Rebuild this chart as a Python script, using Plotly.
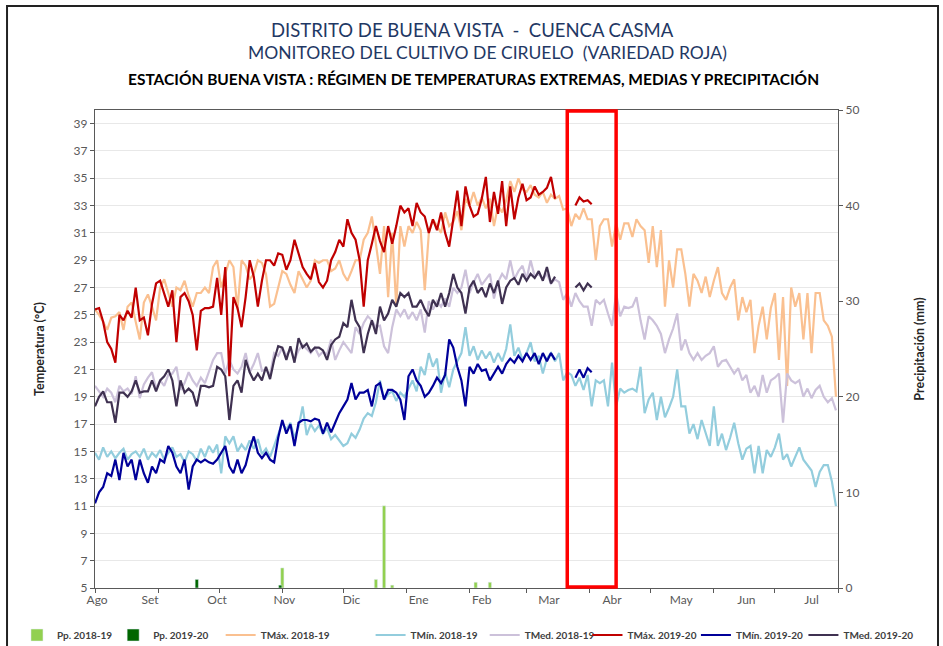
import pandas as pd
import plotly.graph_objects as go

# ---------------- DATA ----------------
# 2-day sampled daily series, season axis starting 1 Aug
tmax_1819 = [25.4,25.0,24.5,23.9,24.8,24.9,25.2,23.9,25.6,25.9,24.5,23.2,25.9,26.5,25.6,24.6,27.0,27.6,26.6,25.6,
             27.0,26.8,27.5,26.4,25.6,26.6,26.6,27.0,26.6,28.5,29.0,27.0,28.0,29.0,28.5,25.4,29.0,28.6,27.6,28.0,
             29.0,28.8,28.0,25.6,25.8,27.0,28.2,28.0,27.2,26.6,28.2,27.6,27.0,27.5,29.0,28.8,29.0,29.0,28.2,28.4,
             29.0,28.0,27.5,28.2,29.0,29.0,30.5,31.0,32.2,30.2,28.0,31.5,26.3,31.0,25.6,31.5,30.0,31.5,31.0,31.8,
             31.2,26.8,31.0,32.0,31.5,31.0,32.5,31.5,31.8,32.6,31.2,33.5,33.0,34.0,33.0,33.6,32.8,33.5,31.5,33.0,
             32.5,33.4,34.8,34.0,35.0,34.2,34.0,34.5,33.8,33.6,34.0,33.2,33.8,33.5,33.7,32.7,32.8,31.5,32.4,32.0,
             32.8,32.0,32.0,29.0,31.5,32.0,32.0,30.0,31.7,30.5,31.7,31.7,30.7,32.0,31.5,31.2,28.8,31.5,28.5,31.2,
             25.6,29.0,27.0,29.8,29.8,28.0,25.6,28.0,27.5,26.6,27.8,26.3,27.5,28.5,26.6,26.1,27.0,27.6,24.6,26.3,
             25.2,26.1,22.2,24.2,25.6,23.2,25.5,26.6,21.7,26.3,19.8,27.0,25.6,26.6,23.2,26.6,22.2,26.6,26.6,24.6,
             24.2,23.4,19.0]
tmin_1819 = [14.9,14.4,15.3,14.6,15.0,14.5,14.9,15.2,14.4,14.8,15.0,14.6,15.2,14.4,14.9,14.6,15.1,14.4,14.9,15.3,
             14.6,14.8,14.2,15.0,14.8,14.3,15.2,14.6,15.4,14.9,15.5,13.4,16.1,15.6,16.1,15.0,15.5,15.1,15.8,15.2,
             15.9,14.8,15.2,14.6,15.4,16.2,17.1,16.6,17.1,16.0,16.8,18.3,16.2,17.0,16.5,16.9,16.3,16.7,15.9,16.2,
             15.8,15.4,15.6,16.3,16.0,16.6,17.4,17.8,17.6,18.6,20.2,18.8,19.2,19.4,18.7,19.3,19.0,19.6,20.2,19.4,
             21.2,20.6,22.2,21.2,21.8,19.3,20.8,19.7,21.0,21.6,22.2,24.1,22.0,22.7,21.7,22.4,21.8,22.3,21.5,22.2,
             21.6,22.5,24.3,22.0,22.6,21.7,22.2,23.0,21.6,22.0,20.7,21.8,22.2,21.6,22.2,20.2,20.8,20.6,19.8,20.4,
             19.5,20.6,18.3,20.2,20.0,20.2,18.3,21.5,18.3,19.6,19.3,19.5,19.6,19.4,21.2,17.8,18.8,19.3,17.3,19.0,
             17.5,18.2,19.0,21.0,18.3,18.3,16.3,17.0,15.9,17.3,16.4,15.4,18.3,15.4,16.3,15.1,16.0,17.1,15.6,14.4,
             15.2,15.4,13.4,15.4,13.4,15.1,14.6,15.3,16.3,14.4,14.8,13.9,14.6,15.3,14.4,14.0,13.6,12.4,13.5,14.0,
             14.0,12.8,11.0]
tmed_1819 = [19.8,19.4,19.0,19.6,19.3,18.6,19.8,19.4,19.6,19.2,20.5,18.9,19.9,20.4,20.8,19.6,20.2,19.8,20.6,20.7,
             21.2,19.5,20.0,20.8,20.2,19.8,20.4,20.0,20.8,21.7,22.2,22.2,20.7,21.7,21.0,20.7,21.2,22.2,20.8,21.4,
             22.2,20.9,21.0,20.6,22.2,22.0,22.6,22.0,22.5,21.7,22.4,22.8,22.5,22.2,22.6,22.0,22.3,22.1,23.2,21.7,
             22.4,23.0,22.6,22.2,24.1,23.6,24.4,24.9,24.6,24.1,24.2,22.7,22.2,24.1,25.4,24.9,25.4,24.7,25.2,24.6,
             25.4,23.7,26.0,25.4,26.0,25.6,26.2,25.6,27.0,26.6,27.0,28.3,26.6,27.4,28.0,27.2,27.6,28.0,26.2,27.4,
             28.0,27.6,29.0,27.6,28.2,28.6,27.6,29.0,27.8,28.0,27.6,28.0,27.3,27.6,27.4,26.1,26.6,25.6,26.6,26.0,
             25.6,25.6,24.2,26.1,25.8,26.1,25.1,24.2,26.6,24.9,25.6,25.5,25.6,26.3,24.6,23.2,24.9,24.6,24.2,23.6,
             22.2,23.2,24.0,25.1,22.4,23.2,22.2,21.7,22.2,21.7,22.0,22.2,22.7,21.2,21.6,21.7,21.2,20.7,21.1,20.2,
             20.6,19.3,19.8,19.0,20.6,19.3,20.2,20.4,20.7,17.1,20.7,20.2,20.0,20.2,19.0,19.6,18.9,19.5,19.8,19.0,
             18.6,18.9,18.0]

tmax_1920 = [25.4,25.5,24.5,23.0,22.5,21.5,25.0,24.6,25.3,24.8,27.0,24.6,24.8,23.5,25.8,27.3,27.5,26.6,25.6,26.8,
             23.0,26.3,26.6,26.0,25.0,22.4,25.3,25.5,25.5,25.6,27.7,25.0,28.5,20.5,26.3,25.5,24.1,26.3,29.0,27.8,
             25.6,27.5,29.0,29.0,28.6,29.5,29.4,28.3,29.0,30.5,29.5,28.5,28.0,27.6,28.8,27.4,27.0,27.5,29.0,29.6,
             30.5,30.0,32.0,31.0,30.5,29.0,25.6,29.0,30.2,31.5,30.4,29.6,31.5,30.2,31.5,33.0,32.5,32.8,31.5,33.2,
             32.5,32.2,31.0,32.0,31.2,32.5,31.0,30.0,32.0,34.1,31.5,34.4,33.0,32.2,32.4,33.5,35.1,31.8,34.0,32.4,
             34.8,31.5,34.4,32.0,33.6,34.6,33.4,33.6,34.4,33.8,34.0,34.3,35.1,33.5,None,None,None,None,33.0,33.6,
             33.3,33.4,33.1]
tmin_1920 = [11.2,12.0,12.4,13.4,13.2,14.4,12.9,14.9,13.9,14.4,12.9,14.4,13.4,12.7,13.9,13.4,14.4,14.2,15.4,14.9,
             13.9,13.4,14.4,12.2,13.9,14.4,14.2,14.4,14.2,14.1,14.4,14.9,15.4,13.9,13.4,14.4,13.4,14.0,15.2,16.1,
             14.9,14.5,14.9,14.4,14.2,16.0,17.3,16.3,17.0,15.4,17.1,17.3,17.3,17.2,17.4,17.3,16.3,17.1,16.4,17.1,
             17.8,18.3,18.8,20.0,18.8,19.3,19.3,19.5,18.3,19.8,20.0,18.8,19.5,19.5,19.3,18.8,17.3,20.5,21.0,20.2,
             19.8,19.0,19.3,19.8,20.4,20.0,20.6,23.2,22.6,21.2,20.2,18.3,21.2,20.7,21.4,20.9,21.0,20.2,20.7,21.2,
             20.7,21.4,21.8,21.5,22.0,21.6,22.2,21.7,22.2,21.4,22.2,21.6,22.2,21.7,None,None,None,None,20.4,21.0,
             20.4,21.1,20.8]
tmed_1920 = [18.3,19.0,19.4,18.6,18.6,17.1,19.3,19.3,19.0,19.4,20.2,19.3,19.4,19.4,20.2,19.4,20.2,20.5,21.0,20.2,
             18.3,20.2,19.3,19.6,19.3,18.3,19.8,19.8,19.7,19.8,21.2,21.0,20.5,17.3,19.8,20.2,19.3,21.7,20.8,20.2,
             20.7,20.2,21.2,20.3,21.7,22.7,22.6,21.7,22.7,21.5,23.3,22.6,22.9,22.3,22.6,22.6,22.4,21.7,22.8,23.2,
             23.4,24.4,24.1,26.1,24.6,24.1,22.2,23.6,24.6,23.6,25.6,24.6,25.1,26.1,25.6,26.6,26.3,26.6,25.6,25.6,
             26.1,25.4,24.9,26.1,25.6,26.6,25.6,26.6,28.0,27.0,26.6,25.1,27.0,27.5,26.6,27.0,26.3,27.3,26.6,27.5,
             25.8,27.0,27.5,27.7,27.2,28.0,27.5,28.0,27.7,28.2,27.5,28.5,27.3,27.8,None,None,None,None,27.0,27.3,
             26.8,27.3,27.0]

pp_1819_dates = ["2018-11-01", "2018-12-17", "2018-12-21", "2018-12-25", "2019-02-04", "2019-02-11"]
pp_1819_vals = [2.1, 0.9, 8.6, 0.3, 0.6, 0.6]
pp_1920_dates = ["2018-09-20", "2018-10-31"]
pp_1920_vals = [0.9, 0.3]

# month labels (as placed on the original axis) and month-start tick marks
label_dates = ["2018-08-02", "2018-08-28", "2018-09-30", "2018-11-02", "2018-12-05", "2019-01-07",
               "2019-02-07", "2019-03-12", "2019-04-12", "2019-05-16", "2019-06-17", "2019-07-19"]
month_labels = ["Ago", "Set", "Oct", "Nov", "Dic", "Ene", "Feb", "Mar", "Abr", "May", "Jun", "Jul"]
month_starts = ["2018-08-01", "2018-09-01", "2018-10-01", "2018-11-01", "2018-12-01", "2019-01-01",
                "2019-02-01", "2019-03-01", "2019-04-01", "2019-05-01", "2019-06-01", "2019-07-01",
                "2019-08-01"]

# ---------------- FIGURE ----------------
d1819 = pd.date_range("2018-08-01", periods=len(tmax_1819), freq="2D")
d1920 = pd.date_range("2018-08-01", periods=len(tmax_1920), freq="2D")

FONT = "Lato"
fig = go.Figure()

legend_ids = ["legend", "legend2", "legend3", "legend4", "legend5", "legend6", "legend7", "legend8"]
# left edge (fraction of page width) of each legend entry, spread along the bottom row
legend_x = [0.018, 0.120, 0.234, 0.393, 0.514, 0.623, 0.738, 0.852]

bar_w = 1.6 * 86400000
fig.add_trace(go.Bar(x=pd.to_datetime(pp_1819_dates), y=pp_1819_vals, name="Pp. 2018-19",
                     marker_color="#92D050", width=bar_w, yaxis="y2", legend=legend_ids[0]))
fig.add_trace(go.Bar(x=pd.to_datetime(pp_1920_dates), y=pp_1920_vals, name="Pp. 2019-20",
                     marker_color="#006600", width=bar_w, yaxis="y2", legend=legend_ids[1]))

lw = 2.2
series = [(d1819, tmax_1819, "TMáx. 2018-19", "#FAC090"),
          (d1819, tmin_1819, "TMín. 2018-19", "#93CDDD"),
          (d1819, tmed_1819, "TMed. 2018-19", "#CCC1DA"),
          (d1920, tmax_1920, "TMáx. 2019-20", "#C00000"),
          (d1920, tmin_1920, "TMín. 2019-20", "#000099"),
          (d1920, tmed_1920, "TMed. 2019-20", "#3F3151")]
for k, (xd, yd, nm, col) in enumerate(series):
    fig.add_trace(go.Scatter(x=xd, y=yd, name=nm, mode="lines", line=dict(color=col, width=lw),
                             legend=legend_ids[k + 2]))

axis_col = "#595959"
legend_font = dict(size=10, color="#404040", weight="bold")
legends = {}
for lid, lx in zip(legend_ids, legend_x):
    legends[lid] = dict(orientation="h", xref="container", yref="container", x=lx, xanchor="left",
                        y=0.017, yanchor="middle", font=legend_font, itemwidth=30,
                        bgcolor="rgba(0,0,0,0)", borderwidth=0)

fig.update_layout(
    width=943, height=646,
    margin=dict(l=95, r=105, t=110, b=58, autoexpand=False),
    paper_bgcolor="white", plot_bgcolor="white",
    font=dict(family=FONT, size=12, color=axis_col),
    barmode="overlay",
    showlegend=True,
    xaxis=dict(type="date", range=["2018-08-01", "2019-08-01"], automargin=False,
               tickmode="array", tickvals=label_dates, ticktext=month_labels, ticks="",
               minor=dict(tickmode="array", tickvals=month_starts, ticks="outside", ticklen=4,
                          tickcolor="#595959", showgrid=False),
               showgrid=False, showline=True, linecolor="#595959", linewidth=1.2, mirror=True,
               tickfont=dict(size=12, color=axis_col)),
    yaxis=dict(range=[5, 40], tickvals=list(range(5, 40, 2)), showgrid=True, gridcolor="#E8E8E8",
               gridwidth=1.2, showline=True, linecolor="#595959", linewidth=1.2, automargin=False,
               ticks="outside", ticklen=4, tickcolor="#595959", zeroline=False,
               tickfont=dict(size=12, color=axis_col),
               title=dict(text="Temperatura (°C)", font=dict(size=12.5, color="#262626", weight="bold"),
                          standoff=26)),
    yaxis2=dict(range=[0, 50], tickvals=[0, 10, 20, 30, 40, 50], overlaying="y", side="right",
                showgrid=False, showline=True, linecolor="#595959", linewidth=1.2, automargin=False,
                ticks="outside", ticklen=4, tickcolor="#595959", zeroline=False,
                tickfont=dict(size=12, color=axis_col),
                title=dict(text="Precipitación (mm)", font=dict(size=12.5, color="#262626", weight="bold"),
                           standoff=56)),
    **legends,
)

# titles
fig.add_annotation(text="DISTRITO DE BUENA VISTA  -  CUENCA CASMA", xref="paper", yref="paper",
                   x=0.508, y=1.167, showarrow=False, yanchor="middle",
                   font=dict(size=18.5, color="#1F3864", family=FONT))
fig.add_annotation(text="MONITOREO DEL CULTIVO DE CIRUELO  (VARIEDAD ROJA)", xref="paper", yref="paper",
                   x=0.5276, y=1.121, showarrow=False, yanchor="middle",
                   font=dict(size=17.5, color="#1F3864", family=FONT))
fig.add_annotation(text="ESTACIÓN BUENA VISTA : RÉGIMEN DE TEMPERATURAS EXTREMAS, MEDIAS Y PRECIPITACIÓN",
                   xref="paper", yref="paper", x=0.51, y=1.065, showarrow=False, yanchor="middle",
                   font=dict(size=15.5, color="#000000", family=FONT, weight="bold"))

# highlight rectangle
fig.add_shape(type="rect", xref="x", yref="paper", x0="2019-03-21", x1="2019-04-14", y0=0.002, y1=0.998,
              line=dict(color="#FF0000", width=3.5), fillcolor="rgba(0,0,0,0)", layer="above")
# outer frame
fig.add_shape(type="rect", xref="paper", yref="paper", x0=-0.1184, x1=1.1346, y0=-0.25, y1=1.2176,
              line=dict(color="#222222", width=2), fillcolor="rgba(0,0,0,0)", layer="above")

fig.write_html("out.html", config={"displayModeBar": False},
               post_script="document.body.style.margin='0px';")
